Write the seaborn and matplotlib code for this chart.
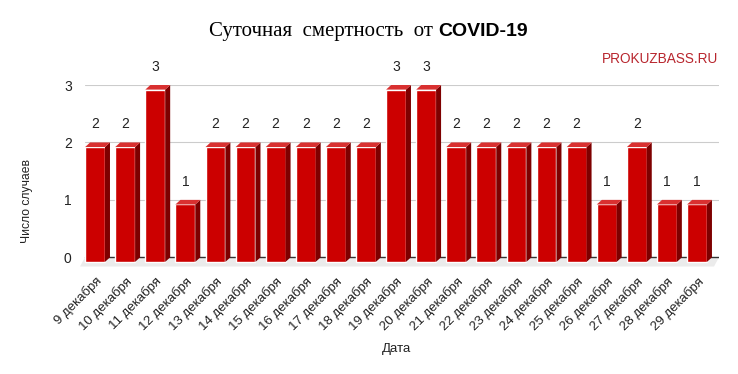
import seaborn as sns
import matplotlib.pyplot as plt
from matplotlib.patches import Polygon

dates = ['9 декабря', '10 декабря', '11 декабря', '12 декабря', '13 декабря', '14 декабря',
         '15 декабря', '16 декабря', '17 декабря', '18 декабря', '19 декабря', '20 декабря',
         '21 декабря', '22 декабря', '23 декабря', '24 декабря', '25 декабря', '26 декабря',
         '27 декабря', '28 декабря', '29 декабря']
deaths = [2, 2, 3, 1, 2, 2, 2, 2, 2, 2, 3, 3, 2, 2, 2, 2, 2, 1, 2, 1, 1]
y_ticks = [0, 1, 2, 3]

sns.set_style('white')
plt.rcParams['font.family'] = ['Liberation Sans', 'DejaVu Sans']

fig = plt.figure(figsize=(7.38, 3.74), dpi=100)
ax = fig.add_axes([80 / 738, 0.2874, (719 - 80) / 738, 0.7727 - 0.2874])

w = 0.66     # bar front width
dx = 0.166   # depth to the right
dz = 0.08    # depth upward
xl, xr = -0.5, 20.73

# back wall gridlines
for t in y_ticks[1:]:
    ax.plot([xl + dx, xr], [t + dz, t + dz], color='#cccccc', lw=0.8, zorder=0)
# floor
ax.add_patch(Polygon([(xl, -0.08), (xr - dx, -0.08), (xr, dz), (xl + dx, dz)],
                     closed=True, color='#ebebeb', lw=0, zorder=0))
ax.plot([xl + dx, xr], [dz, dz], color='#333333', lw=1, zorder=1)

sns.barplot(x=dates, y=deaths, color='#cc0000', saturation=1, width=w, ax=ax, zorder=3)

for i, v in enumerate(deaths):
    r = i + w / 2
    l = i - w / 2
    ax.add_patch(Polygon([(r, 0), (r + dx, dz), (r + dx, v + dz), (r, v)],
                         closed=True, color='#7e0000', lw=0, zorder=3))
    ax.add_patch(Polygon([(l, v), (r, v), (r + dx, v + dz), (l + dx, v + dz)],
                         closed=True, color='#d93030', lw=0, zorder=3))
    ax.text(i, v + 0.4, str(v), ha='center', va='center', fontsize=10, color='#222222')

ax.set_xlim(xl, xr)
ax.set_ylim(-0.08, 3 + dz)
ax.set_yticks([t + dz for t in y_ticks])
ax.set_yticklabels([str(t) for t in y_ticks], fontsize=10, color='#222222')
ax.set_xticks(range(len(dates)))
ax.set_xticklabels(dates, rotation=45, ha='right', rotation_mode='anchor', fontsize=9.5, color='#222222')
ax.tick_params(axis='both', length=0, pad=6)
ax.set_xlabel('')
ax.set_ylabel('')
for s in ax.spines.values():
    s.set_visible(False)

fig.text(433 / 738, 1 - 36 / 374, 'Суточная  смертность  от', family='Liberation Serif',
         fontsize=15, ha='right', va='baseline', color='#000000')
fig.text(438 / 738, 1 - 36 / 374, 'COVID-19', family='Liberation Sans', fontweight='heavy',
         fontsize=14, ha='left', va='baseline', color='#000000')
fig.text(718 / 738, 1 - 59 / 374, 'PROKUZBASS.RU', fontsize=9.8, ha='right', va='center',
         color='#b8262e')
fig.text(27 / 738, 1 - 201 / 374, 'Число случаев', rotation=90, fontsize=8.7, ha='center',
         va='center', color='#222222')
fig.text(397 / 738, 1 - 349 / 374, 'Дата', fontsize=9.5, ha='center', va='center', color='#222222')

fig.savefig('out.png', dpi=100, facecolor='white')
